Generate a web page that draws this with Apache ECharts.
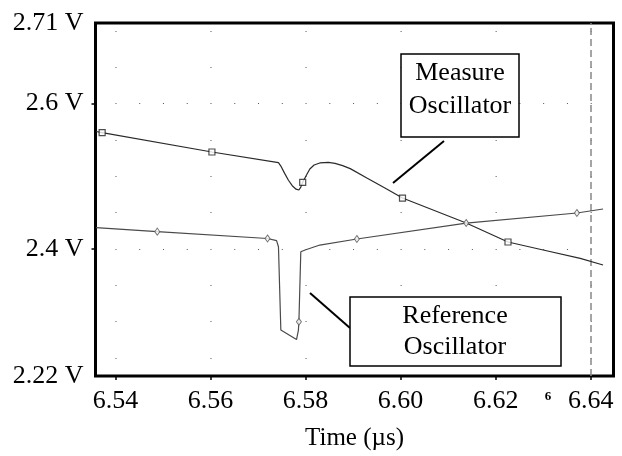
<!DOCTYPE html>
<html>
<head>
<meta charset="utf-8">
<script src="https://cdn.jsdelivr.net/npm/echarts@6/dist/echarts.min.js"></script>
<style>
  html, body { margin: 0; padding: 0; background: #fff; }
  #chart { width: 622px; height: 456px; }
</style>
</head>
<body>
<div id="chart"></div>
<script>
// axis ranges and ticks
const xMin = 6.5358, xMax = 6.6448;
const yMin = 2.225, yMax = 2.711;
const xTicks = [6.54, 6.56, 6.58, 6.60, 6.62, 6.64];
const yTickValues = [2.225, 2.4, 2.6, 2.711];
const yTickLabels = ['2.22 V', '2.4 V', '2.6 V', '2.71 V'];
const yTickMarks = [2.4, 2.6];
const gridRows = [2.25, 2.30, 2.35, 2.45, 2.50, 2.55, 2.65, 2.70];
const denseRows = [2.4, 2.6];
const cursorX = 6.6427;

// measure oscillator trace (time us, volts)
const measureLine = [
  [6.5359, 2.5616], [6.5372, 2.5600], [6.5603, 2.5334], [6.5743, 2.5187],
  [6.5748, 2.5140], [6.5756, 2.5040], [6.5764, 2.4945], [6.5772, 2.4870],
  [6.5780, 2.4822], [6.5786, 2.4811], [6.5790, 2.4850], [6.5794, 2.4917],
  [6.5802, 2.5017], [6.5809, 2.5100], [6.5818, 2.5155], [6.5830, 2.5183],
  [6.5848, 2.5192], [6.5862, 2.5178], [6.5878, 2.5147], [6.5894, 2.5105],
  [6.5929, 2.4976], [6.5967, 2.4838], [6.6004, 2.4700], [6.6138, 2.4356],
  [6.6226, 2.4095], [6.6300, 2.3985], [6.6378, 2.3870], [6.6426, 2.3778]
];
const measureMarks = [
  [6.5372, 2.5600], [6.5603, 2.5334], [6.5794, 2.4917], [6.6004, 2.4700], [6.6226, 2.4095]
];

// reference oscillator trace
const referenceLine = [
  [6.5359, 2.4292], [6.5488, 2.4237], [6.5720, 2.4143], [6.5739, 2.4113],
  [6.5743, 2.4030], [6.5748, 2.2883], [6.5750, 2.2883], [6.5781, 2.2752],
  [6.5785, 2.2883], [6.5786, 2.2997], [6.5790, 2.3961], [6.5799, 2.3985],
  [6.5830, 2.4053], [6.5908, 2.4136], [6.6138, 2.4356], [6.6371, 2.4494],
  [6.6426, 2.4549]
];
const referenceMarks = [
  [6.5488, 2.4237], [6.5720, 2.4143], [6.5786, 2.2997], [6.5908, 2.4136],
  [6.6138, 2.4356], [6.6371, 2.4494]
];

const FONT = '"Liberation Serif", "Times New Roman", serif';
const gridLeft = 95.5, gridTop = 23, gridW = 518, gridH = 353;

// dotted grid: dash period follows the x scale so dots sit on the time grid
const pxPerX = gridW / (xMax - xMin);
const sparsePeriod = 0.02 * pxPerX;
const densePeriod = 0.005 * pxPerX;
const firstDot = (xTicks[0] - xMin) * pxPerX;
const sparseOffset = sparsePeriod - firstDot;
const denseOffset = densePeriod - (firstDot % densePeriod);

const rowLines = gridRows.map(function (v) {
  return { yAxis: v, lineStyle: { type: [1, sparsePeriod - 1], dashOffset: sparseOffset, color: '#555', width: 1 } };
}).concat(denseRows.map(function (v) {
  return { yAxis: v, lineStyle: { type: [1, densePeriod - 1], dashOffset: denseOffset, color: '#555', width: 1 } };
}));
rowLines.push({ xAxis: cursorX, lineStyle: { type: [7, 4], color: '#888', width: 1.5 } });

const myChart = echarts.init(document.getElementById('chart'));

const textStyle = function (txt, size) {
  return {
    text: txt, font: size + 'px ' + FONT, fill: '#000',
    align: 'center', verticalAlign: 'middle', textAlign: 'center', textVerticalAlign: 'middle'
  };
};

const option = {
  animation: false,
  backgroundColor: '#fff',
  grid: {
    left: gridLeft, top: gridTop, width: gridW, height: gridH,
    show: true, borderColor: '#000', borderWidth: 3, backgroundColor: 'transparent'
  },
  xAxis: {
    type: 'value',
    min: xMin,
    max: xMax,
    name: 'Time (µs)',
    nameLocation: 'middle',
    nameGap: 50,
    nameTextStyle: { fontFamily: FONT, fontSize: 25, color: '#000' },
    axisLine: { show: false },
    splitLine: { show: false },
    axisTick: { show: true, customValues: xTicks, length: 4, lineStyle: { color: '#000', width: 1.5 } },
    axisLabel: {
      customValues: xTicks,
      margin: 12,
      fontFamily: FONT, fontSize: 26, color: '#000',
      formatter: function (v) { return v.toFixed(2); }
    }
  },
  yAxis: {
    type: 'value',
    min: yMin,
    max: yMax,
    axisLine: { show: false },
    splitLine: { show: false },
    axisTick: { show: true, customValues: yTickMarks, length: 4, lineStyle: { color: '#000', width: 1.5 } },
    axisLabel: {
      customValues: yTickValues,
      margin: 12,
      fontFamily: FONT, fontSize: 26, color: '#000',
      formatter: function (v) {
        for (let i = 0; i < yTickValues.length; i++) {
          if (Math.abs(v - yTickValues[i]) < 1e-6) return yTickLabels[i];
        }
        return '';
      }
    }
  },
  series: [
    {
      name: 'Measure Oscillator',
      type: 'line',
      data: measureLine,
      showSymbol: false,
      lineStyle: { color: '#2a2a2a', width: 1.2 },
      silent: true,
      z: 3,
      markLine: {
        silent: true,
        symbol: 'none',
        label: { show: false },
        data: rowLines,
        z: 1
      }
    },
    {
      name: 'Reference Oscillator',
      type: 'line',
      data: referenceLine,
      showSymbol: false,
      lineStyle: { color: '#4a4a4a', width: 1.2 },
      silent: true,
      z: 3
    },
    {
      type: 'scatter',
      data: measureMarks,
      symbol: 'rect',
      symbolSize: 6,
      itemStyle: { color: '#fff', borderColor: '#222', borderWidth: 1.2 },
      silent: true,
      z: 4
    },
    {
      type: 'scatter',
      data: referenceMarks,
      symbol: 'diamond',
      symbolSize: [5, 7],
      itemStyle: { color: '#fff', borderColor: '#555', borderWidth: 1 },
      silent: true,
      z: 4
    }
  ],
  graphic: [
    { type: 'line', shape: { x1: 444, y1: 141, x2: 393, y2: 183 }, style: { stroke: '#000', lineWidth: 2 }, z: 100 },
    { type: 'rect', shape: { x: 401, y: 54, width: 118, height: 83 }, style: { fill: '#fff', stroke: '#000', lineWidth: 1.5 }, z: 100 },
    { type: 'text', x: 460, y: 73, style: textStyle('Measure', 26), z: 101 },
    { type: 'text', x: 460, y: 106, style: textStyle('Oscillator', 26), z: 101 },
    { type: 'line', shape: { x1: 310, y1: 293, x2: 350, y2: 328 }, style: { stroke: '#000', lineWidth: 2 }, z: 100 },
    { type: 'rect', shape: { x: 350, y: 297, width: 211, height: 69 }, style: { fill: '#fff', stroke: '#000', lineWidth: 1.5 }, z: 100 },
    { type: 'text', x: 455, y: 316, style: textStyle('Reference', 26), z: 101 },
    { type: 'text', x: 455, y: 347, style: textStyle('Oscillator', 26), z: 101 },
    { type: 'text', x: 548, y: 397, style: { text: '6', font: 'bold 13px ' + FONT, fill: '#000', align: 'center', verticalAlign: 'middle', textAlign: 'center', textVerticalAlign: 'middle' }, z: 101 }
  ]
};

myChart.setOption(option);
window.addEventListener('resize', function () {
  myChart.resize();
});
</script>
</body>
</html>
